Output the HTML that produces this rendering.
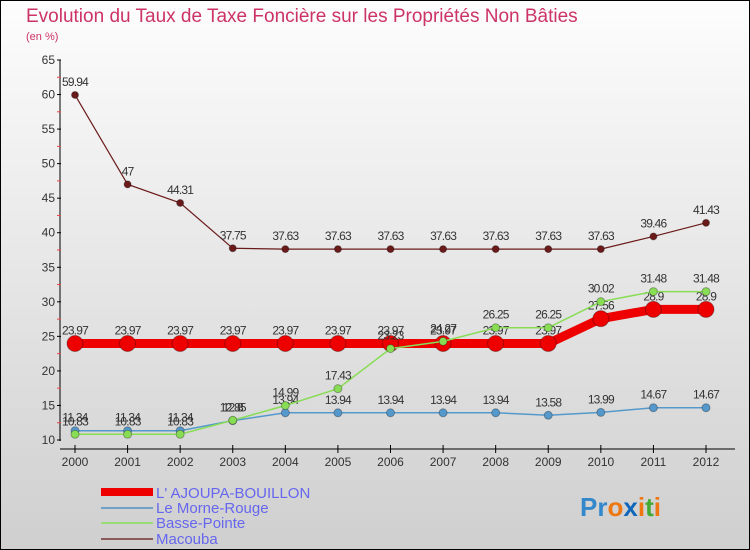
<!DOCTYPE html>
<html><head><meta charset="utf-8"><style>
body{margin:0}
#c{width:750px;height:550px;position:relative;background:linear-gradient(#fdfdfd,#cfcfcf);box-sizing:border-box;border:1px solid #000;overflow:hidden;font-family:"Liberation Sans",sans-serif}
</style></head><body>
<div id="c">
<svg id="s" width="750" height="550" style="position:absolute;left:-1px;top:-1px">
<text x="26" y="22" font-size="19" fill="#cc3366">Evolution du Taux de Taxe Foncière sur les Propriétés Non Bâties</text>
<text x="26" y="40" font-size="11" fill="#cc3366">(en %)</text>
<g id="axes"></g><g id="series"></g>
<g>
<rect x="101" y="488" width="52" height="8" fill="#e00"/>
<text x="156" y="498" font-size="15" fill="#6666ee">L' AJOUPA-BOUILLON</text>
<rect x="101" y="507" width="52" height="2" fill="#6fa0c8"/>
<text x="156" y="513" font-size="15" fill="#6666ee">Le Morne-Rouge</text>
<rect x="101" y="522" width="52" height="2" fill="#99dd77"/>
<text x="156" y="528" font-size="15" fill="#6666ee">Basse-Pointe</text>
<rect x="101" y="538" width="52" height="2" fill="#8b5a5a"/>
<text x="156" y="544" font-size="15" fill="#6666ee">Macouba</text>
</g>
<text x="580" y="516" font-size="26" font-weight="bold"><tspan fill="#3388cc">Pr</tspan><tspan fill="#ee7711">o</tspan><tspan fill="#1166bb">x</tspan><tspan fill="#ee7711">i</tspan><tspan fill="#44aa33">t</tspan><tspan fill="#ee7711">i</tspan></text>
</svg>
</div>
<script>
const years=[2000,2001,2002,2003,2004,2005,2006,2007,2008,2009,2010,2011,2012];
const yTicks=[10,15,20,25,30,35,40,45,50,55,60,65];
const ajoupa=[23.97,23.97,23.97,23.97,23.97,23.97,23.97,23.97,23.97,23.97,27.56,28.9,28.9];
const morne=[11.34,11.34,11.34,12.8,13.94,13.94,13.94,13.94,13.94,13.58,13.99,14.67,14.67];
const basse=[10.83,10.83,10.83,12.85,14.99,17.43,23.23,24.27,26.25,26.25,30.02,31.48,31.48];
const macouba=[59.94,47,44.31,37.75,37.63,37.63,37.63,37.63,37.63,37.63,37.63,39.46,41.43];
const NS='http://www.w3.org/2000/svg';
const X=i=>75+i*(706-75)/(years.length-1);
const Y=v=>440-(v-10)*(380/55);
function el(t,a,p){const e=document.createElementNS(NS,t);for(const k in a)e.setAttribute(k,a[k]);p.appendChild(e);return e;}
const ax=document.getElementById('axes'),sg=document.getElementById('series');
let l=el('line',{x1:60,y1:Y(65),x2:60,y2:441,stroke:'#000'},ax);


l=el('line',{x1:60,y1:449,x2:735,y2:449,stroke:'#000'},ax);


yTicks.forEach(v=>{
 el('line',{x1:57,y1:Y(v),x2:61,y2:Y(v),stroke:'#000'},ax);
 if(v<65) el('line',{x1:57,y1:Y(v+2.5),x2:61,y2:Y(v+2.5),stroke:'#e44'},ax);
 const t=el('text',{x:55,y:Y(v)+4,'font-size':12,fill:'#333','text-anchor':'end'},ax);
 t.textContent=v;
 
 
});
years.forEach((y,i)=>{
 el('line',{x1:X(i),y1:445,x2:X(i),y2:453,stroke:'#000'},ax);
 const t=el('text',{x:X(i),y:466,'font-size':12,fill:'#333','text-anchor':'middle'},ax);
 t.textContent=y;
 
 
});
function series(vals,color,w,r,name){
 const g=el('g',{},sg);
 
 
 el('polyline',{points:vals.map((v,i)=>X(i)+','+Y(v)).join(' '),fill:'none',stroke:color,'stroke-width':w},g);
 vals.forEach((v,i)=>{
  const c=el('circle',{cx:X(i),cy:Y(v),r:r,fill:color,stroke:'rgba(0,0,0,0.3)'},g);
  
  
  const t=el('text',{x:X(i),y:Y(v)-9,'font-size':12,fill:'#333','text-anchor':'middle','letter-spacing':'-0.8'},g);
  t.textContent=v;
  
  
 });
}
series(macouba,'#6b1a1a',1.2,3.5,'macouba');
series(ajoupa,'#ee0000',9,8,'ajoupa');
series(morne,'#5599cc',1.5,4,'morne-rouge');
series(basse,'#88dd55',1.5,4,'basse-pointe');
</script>
</body></html>
